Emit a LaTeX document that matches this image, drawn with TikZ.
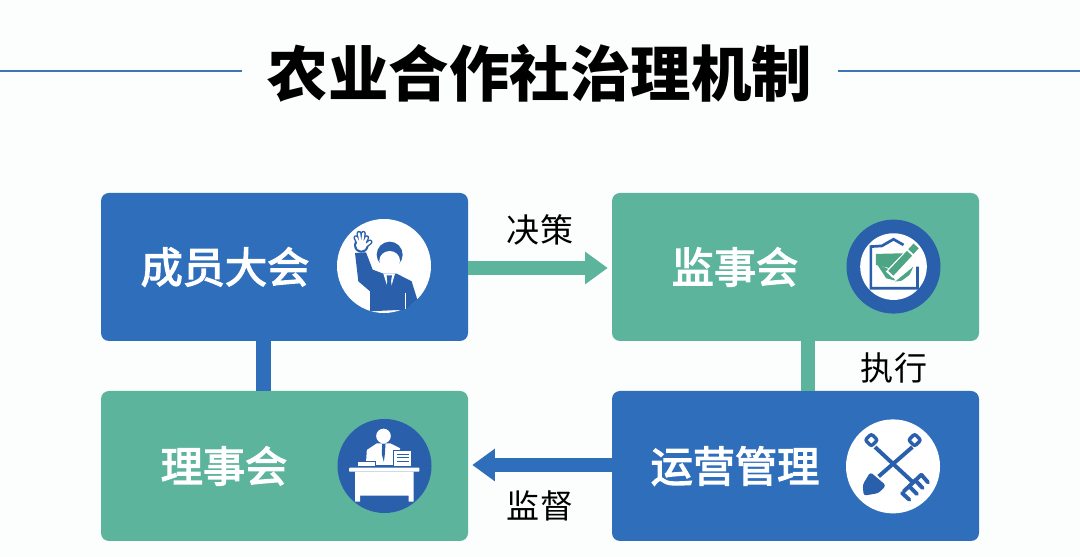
\documentclass[tikz,border=0pt]{standalone}
\usepackage{fontspec}
\setmainfont{Noto Sans CJK SC}
\newfontfamily\boxfont[FakeBold=3]{Noto Sans CJK SC}
\usetikzlibrary{arrows.meta,positioning,calc}
\definecolor{boxblue}{HTML}{2F6EBB}
\definecolor{boxgreen}{HTML}{5CB49D}
\definecolor{iconblue}{HTML}{2A5FAB}
\definecolor{rulecolor}{HTML}{3F74B6}
\definecolor{checkgreen}{HTML}{4EA585}
\definecolor{paperbg}{HTML}{FCFDFD}
\tikzset{
  bluebox/.style={fill=boxblue,rounded corners=0.2cm,minimum width=9.175cm,minimum height=3.7cm,inner sep=0pt},
  greenbox/.style={bluebox,fill=boxgreen},
  boxtext/.style={text=white,font=\fontsize{30}{30}\boxfont,inner sep=0pt},
  linktext/.style={text=black,font=\fontsize{23.5}{24}\selectfont,inner sep=0pt},
  iconbadge/.style={circle,minimum size=2.35cm,inner sep=0pt},
  iconunit/.style={x=0.00833cm,y=-0.00833cm},
  ruleline/.style={draw=rulecolor,line width=1.7pt},
  bluelink/.style={draw=boxblue,line width=10.5pt},
  greenlink/.style={draw=boxgreen,line width=10pt}
}
\begin{document}
\begin{tikzpicture}
  \useasboundingbox[fill=paperbg] (0,0) rectangle (27,13.925);

  \node[font=\fontsize{43}{43}\selectfont\bfseries,inner xsep=0.65cm,inner ysep=0pt] (title) at (13.5,12.1) {农业合作社治理机制};
  \coordinate (ruleleft) at (0,12.15);
  \coordinate (ruleright) at (27,12.15);
  \draw[ruleline] (ruleleft) -- (ruleleft -| title.west);
  \draw[ruleline] (ruleright) -- (ruleright -| title.east);

  \node[bluebox] (member) at (7.1125,7.25) {};
  \node[greenbox] (supervise) at (19.8875,7.25) {};
  \node[greenbox,minimum height=3.75cm] (council) at (7.1125,2.275) {};
  \node[bluebox,minimum height=3.75cm] (ops) at (19.8875,2.275) {};

  \node[boxtext] (membertext) at (5.625,7.25) {成员大会};
  \node[boxtext] (supervisetext) at (18.375,7.25) {监事会};
  \node[boxtext] (counciltext) at (5.6,2.275) {理事会};
  \node[boxtext] (opstext) at (18.375,2.275) {运营管理};

  % links between the boxes
  \draw[bluelink] ($(member.south)+(-0.525,0)$) -- ($(council.north)+(-0.525,0)$);
  \draw[greenlink] ($(supervise.south)+(0.3125,0)$) -- ($(ops.north)+(0.3125,0)$);
  \draw[greenlink,-{Triangle[length=16pt,width=22pt]},shorten >=0.1cm] ($(member.east)+(0,-0.025)$) -- ($(supervise.west)+(0,-0.025)$);
  \draw[bluelink,-{Triangle[length=16pt,width=22pt]},shorten >=0.1cm] ($(ops.west)+(0,0.025)$) -- ($(council.east)+(0,0.025)$);

  \node[linktext] (decide) at (13.5,8.175) {决策};
  \node[linktext] (execute) at (22.35,4.725) {执行};
  \node[linktext] (oversee) at (13.5,1.275) {监督};

  \node[iconbadge,fill=white] (membericon) at (9.6,7.275) {};
  \node[iconbadge,fill=iconblue] (superviseicon) at (22.3375,7.26) {};
  \node[iconbadge,fill=iconblue] (councilicon) at (9.6125,2.275) {};
  \node[iconbadge,fill=white] (opsicon) at (22.325,2.265) {};

  % raised hand
  \begin{scope}[shift={(membericon.center)},iconunit]
    \fill[iconblue] (17,-34) circle (39);
    \fill[white] (17,-16) ellipse (31 and 29);
    \fill[iconblue] (-87,-39) -- (-54,-41) -- (-34,11) -- (-2,23) -- (38,23) -- (83,46) -- (100,101) -- (63,131) -- (-42,136) -- (-42,76) -- (-77,46) -- cycle;
    \fill[white] (-2,23) -- (33,23) -- (16,81) -- cycle;
    \fill[iconblue] (8,28) -- (24,28) -- (21,46) -- (26,76) -- (15,89) -- (5,76) -- (10,46) -- cycle;
    \draw[white,line width=0.5pt] (65,80) -- (65,130);
    \foreach \tipx/\tipy in {-84/-85,-75/-98,-62/-98,-52/-85,-42/-72}
      \draw[iconblue,line width=3.6pt,line cap=round] (-68,-52) -- (\tipx,\tipy);
    \fill[iconblue] (-68,-62) circle (22);
    \foreach \tipx/\tipy in {-84/-85,-75/-98,-62/-98,-52/-85,-42/-72}
      \draw[white,line width=1.6pt,line cap=round] (-68,-52) -- (\tipx,\tipy);
    \fill[white] (-68,-62) circle (16);
  \end{scope}

  % ticked sheet
  \begin{scope}[shift={(superviseicon.center)},iconunit]
    \fill[white] (0,0) circle (100);
    \draw[iconblue,line width=1.9pt] (30,-65) -- (0,-82) -- (-35,-62) -- (-68,-60) -- (-68,65) -- (72,65) -- (72,0);
    \fill[checkgreen] (-53,-38) -- (30,-40) -- (-14,4) -- (-53,-5) -- cycle;
    \fill[checkgreen] (-50,-8) -- (-14,8) -- (5,42) -- (-22,35) -- cycle;
    \fill[checkgreen] (5,45) -- (60,0) -- (48,25) -- (25,42) -- cycle;
    \draw[white,line width=7pt] (-12,25) -- (68,-60);
    \draw[checkgreen,line width=5pt] (-8,20) -- (48,-40);
    \draw[checkgreen,line width=5pt] (52,-45) -- (68,-62);
  \end{scope}

  % desk
  \begin{scope}[shift={(councilicon.center)},iconunit]
    \fill[white] (-3,-90) circle (22);
    \fill[white] (-56,-3) -- (-53,-48) -- (-23,-68) -- (17,-68) -- (47,-53) -- (32,-3) -- cycle;
    \fill[iconblue] (-7,-66) -- (3,-66) -- (1,-35) -- (-2,-12) -- (-8,-35) -- cycle;
    \draw[iconblue,fill=white,line width=0.5pt] (27,-47) rectangle (81,2);
    \foreach \liney in {-36,-25,-14}
      \draw[iconblue,line width=0.6pt] (37,\liney) -- (72,\liney);
    \draw[iconblue,fill=white,line width=0.4pt] (-81,-13) rectangle (-28,2);
    \fill[white,rounded corners=0.5pt] (-106,5) rectangle (105,17);
    \fill[white] (-88,17) -- (87,17) -- (87,107) -- (72,107) -- (72,89) -- (-73,89) -- (-73,107) -- (-88,107) -- cycle;
  \end{scope}

  % shovel and rake
  \begin{scope}[shift={(opsicon.center)},iconunit]
    \draw[iconblue,line width=2.8pt] (58,-58) -- (-43,30);
    \draw[iconblue,line width=2.8pt] (-54,-58) -- (58,46);
    \draw[iconblue,line width=2.4pt,rounded corners=1.5pt,rotate around={45:(65,-79)}] (52,-92) rectangle (78,-66);
    \draw[iconblue,line width=2.4pt,rounded corners=1.5pt,rotate around={45:(-65,-79)}] (-78,-92) rectangle (-52,-66);
    \fill[iconblue,rounded corners=2pt] (-68,17) -- (-21,57) -- (-43,80) -- (-88,88) -- (-91,55) -- cycle;
    \draw[iconblue,line width=2.8pt,line cap=round] (32,75) -- (85,25);
    \foreach \ax/\ay/\bx/\by in {27/80/49/100,49/60/72/83,67/42/89/65,85/25/105/48}
      \draw[iconblue,line width=2.8pt,line cap=round] (\ax,\ay) -- (\bx,\by);
  \end{scope}
\end{tikzpicture}
\end{document}
